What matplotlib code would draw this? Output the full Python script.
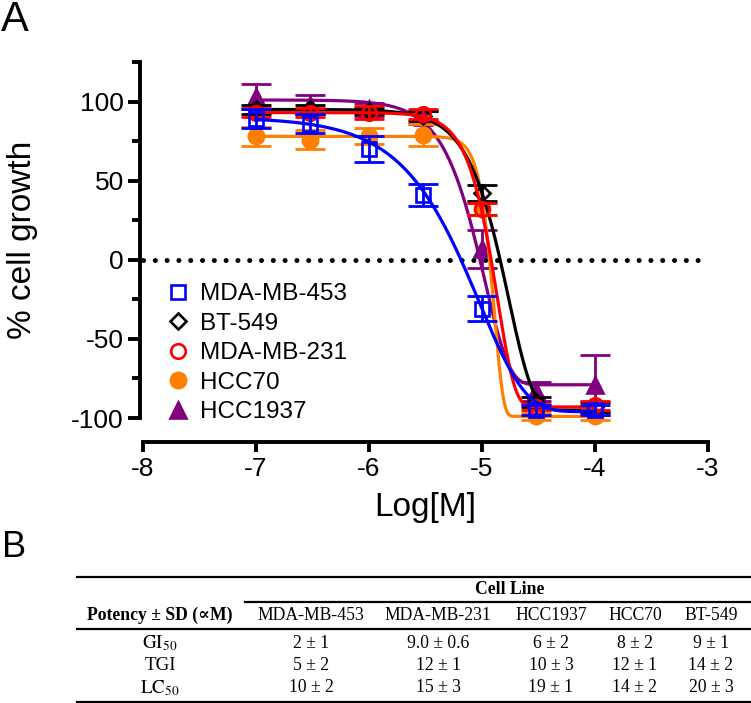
import numpy as np
import matplotlib
matplotlib.use('Agg')
import matplotlib.pyplot as plt
from matplotlib.lines import Line2D
from matplotlib.ticker import MultipleLocator

plt.rcParams['font.family'] = ['Liberation Sans', 'DejaVu Sans']
plt.rcParams['axes.unicode_minus'] = False
plt.rcParams['mathtext.fontset'] = 'stix'

# ---------------- data (panel A) ----------------
log_conc = [-7, -6.523, -6, -5.523, -5, -4.523, -4]

cell_lines = ['MDA-MB-453', 'BT-549', 'MDA-MB-231', 'HCC70', 'HCC1937']

growth_mda453 = [89, 86, 70, 41, -31, -95, -95]
sd_mda453 = [6, 6, 8, 7, 8, 3, 3]
growth_bt549 = [95, 95, 94, 91, 42, -90, -93]
sd_bt549 = [3, 3, 2, 3, 5, 3, 3]
growth_mda231 = [93, 93, 93, 92, 32, -93, -92]
sd_mda231 = [3, 3, 4, 3, 4, 2, 3]
growth_hcc70 = [78, 76, 78, 79, 32, -99, -99]
sd_hcc70 = [6, 6, 5, 7, 4, 2, 2]
growth_hcc1937 = [103, 98, 95, 90, 7, -83, -79]
sd_hcc1937 = [8, 6, 4, 4, 12, 6, 19]

# fitted curve parameters (top, bottom, slope, log midpoint)
fit_top = [90, 95, 93, 78, 101]
fit_bottom = [-96, -95, -93, -99, -79]
fit_slope = [1.08, 2.05, 2.8, 5.5, 2.0]
fit_mid = [-5.02, -4.762, -4.863, -4.89, -4.976]

# ---------------- data (panel B) ----------------
table_columns = ['MDA-MB-453', 'MDA-MB-231', 'HCC1937', 'HCC70', 'BT-549']
table_rows = [r'$\mathrm{GI}_{50}$', 'TGI', r'$\mathrm{LC}_{50}$']
gi50_vals = ['2 ± 1', '9.0 ± 0.6', '6 ± 2', '8 ± 2', '9 ± 1']
tgi_vals = ['5 ± 2', '12 ± 1', '10 ± 3', '12 ± 1', '14 ± 2']
lc50_vals = ['10 ± 2', '15 ± 3', '19 ± 1', '14 ± 2', '20 ± 3']

# ---------------- styling ----------------
colors = ['#0000ff', '#000000', '#ff0000', '#ff8000', '#800080']
markers = ['s', 'D', 'o', 'o', '^']
filled = [False, False, False, True, True]
msizes = [10, 8, 10.5, 11, 11]

W, H = 751, 703
fig = plt.figure(figsize=(W / 100, H / 100), dpi=100)

def fx(px):
    return px / W

def fy(py):
    return 1 - py / H

ax = fig.add_axes([fx(143), fy(418), fx(708) - fx(143), fy(62) - fy(418)])

series = [(growth_mda453, sd_mda453), (growth_bt549, sd_bt549),
          (growth_mda231, sd_mda231), (growth_hcc70, sd_hcc70),
          (growth_hcc1937, sd_hcc1937)]

# zero reference line
ax.plot([-8, -3], [0, 0], color='black', lw=3.6,
        linestyle=(0, (0.01, 2.35)), dash_capstyle='round', zorder=1,
        clip_on=False)

xs = np.linspace(log_conc[0], log_conc[-1], 400)
draw_order = [4, 3, 1, 2, 0]
for i in draw_order:
    g, sd = series[i]
    c = colors[i]
    z = 2 + draw_order.index(i) * 3
    ax.errorbar(log_conc, g, yerr=sd, fmt='none', ecolor=c, elinewidth=2.0,
                capsize=11, capthick=2.0, zorder=z, clip_on=False)
    curve = fit_bottom[i] + (fit_top[i] - fit_bottom[i]) * np.exp(
        -10 ** (fit_slope[i] * (xs - fit_mid[i])))
    ax.plot(xs, curve, color=c, lw=2.3, zorder=z + 1, clip_on=False)
    ax.plot(log_conc, g, linestyle='none', marker=markers[i],
            markersize=msizes[i], markeredgewidth=1.9, markeredgecolor=c,
            markerfacecolor=(c if filled[i] else 'none'), zorder=z + 2,
            clip_on=False)

ax.set_xlim(-8, -3)
ax.set_ylim(-100, 125)
ax.spines['top'].set_visible(False)
ax.spines['right'].set_visible(False)
ax.spines['left'].set_position(('outward', 2.2))
ax.spines['bottom'].set_position(('outward', 17.3))
ax.spines['left'].set_linewidth(2.8)
ax.spines['bottom'].set_linewidth(2.8)
ax.spines['left'].set_bounds(-100, 125)

ax.set_xticks([-8, -7, -6, -5, -4, -3])
ax.set_yticks([-100, -50, 0, 50, 100])
ax.yaxis.set_minor_locator(MultipleLocator(25))
ax.tick_params(axis='y', which='major', length=8.6, width=2.8, labelsize=19, pad=3)
ax.tick_params(axis='y', which='minor', length=6, width=2.8)
ax.tick_params(axis='x', which='major', length=7, width=2.8, labelsize=19, pad=4)

ax.set_xlabel('Log[M]', fontsize=24, labelpad=8)
ax.set_ylabel('% cell growth', fontsize=24)
ax.yaxis.set_label_coords((38 - 143) / 565, 0.5)

handles = []
for i in range(5):
    c = colors[i]
    handles.append(Line2D([], [], linestyle='none', marker=markers[i],
                          markersize=msizes[i], markeredgewidth=1.9,
                          markeredgecolor=c,
                          markerfacecolor=(c if filled[i] else 'none')))
leg = ax.legend(handles, cell_lines, loc='upper left',
                bbox_to_anchor=(fx(166), fy(283)), bbox_transform=fig.transFigure,
                frameon=False, fontsize=17.5, borderpad=0, borderaxespad=0,
                handlelength=1.0, handletextpad=0.4, labelspacing=0.31)

# panel letters
fig.text(fx(1), fy(0), 'A', fontsize=30, ha='left', va='top')
fig.text(fx(2), fy(530), 'B', fontsize=26, ha='left', va='top')

# ---------------- table (panel B) ----------------
serif = ['Liberation Serif', 'DejaVu Serif']
tfs = 12.7
col_x = [311, 438, 551, 635, 711]
label_x = 160
row_y = [643, 665, 688]

def hline(x0, x1, y, lw=1.6):
    fig.add_artist(Line2D([fx(x0), fx(x1)], [fy(y), fy(y)], color='black',
                          lw=lw, transform=fig.transFigure))

hline(77, 750, 577)
hline(245, 750, 602)
hline(77, 750, 629)
hline(77, 750, 702)

fig.text(fx(510), fy(590), 'Cell Line', family=serif, fontsize=tfs,
         fontweight='bold', ha='center', va='center')
fig.text(fx(label_x), fy(615), 'Potency ± SD (∝M)', family=serif, fontsize=tfs,
         fontweight='bold', ha='center', va='center')
for x, name in zip(col_x, table_columns):
    fig.text(fx(x), fy(615), name, family=serif, fontsize=tfs,
             ha='center', va='center')

for y, rlab, vals in zip(row_y, table_rows, [gi50_vals, tgi_vals, lc50_vals]):
    fig.text(fx(label_x), fy(y), rlab, family=serif, fontsize=tfs + 1,
             ha='center', va='center')
    for x, v in zip(col_x, vals):
        fig.text(fx(x), fy(y), v, family=serif, fontsize=tfs,
                 ha='center', va='center')

fig.savefig('out.png', dpi=100)
